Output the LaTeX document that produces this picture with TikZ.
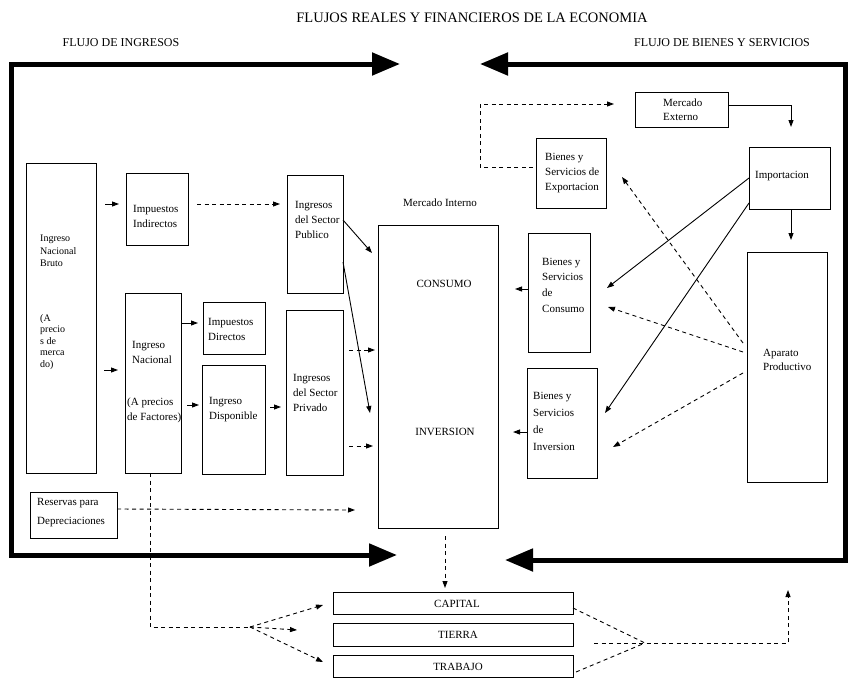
\documentclass[tikz,border=0pt]{standalone}
\usepackage{fontspec}
\setmainfont{Liberation Serif}
\usetikzlibrary{arrows.meta,fit}
\begin{document}
\begin{tikzpicture}[x=1pt,y=-1pt,
  bx/.style={draw, line width=0.9pt, inner sep=0pt, outer sep=0pt},
  txt/.style={font=\fontsize{11}{15}\selectfont, align=left, inner sep=0pt, anchor=west},
  ctxt/.style={font=\fontsize{11}{14}\selectfont, align=center, inner sep=0pt},
  bigframe/.style={line width=5pt, line join=miter, {Triangle[length=28pt,width=22pt]}-{Triangle[length=28pt,width=22pt]}},
  sar/.style={line width=0.9pt, -{Triangle[length=7pt,width=5pt]}},
  dar/.style={line width=0.9pt, dash pattern=on 4pt off 3.5pt, -{Triangle[length=7pt,width=5pt]}},
  dln/.style={line width=0.9pt, dash pattern=on 4pt off 3.5pt},
]
\fill[white] (0,0) rectangle (856,680);
\useasboundingbox (0,0) rectangle (856,680);

% titles
\node[inner sep=0pt, font=\fontsize{14.5}{16}\selectfont] (title) at (472,18) {FLUJOS REALES Y FINANCIEROS DE LA ECONOMIA};
\node[inner sep=0pt, font=\fontsize{12}{14}\selectfont] (fi) at (121,43) {FLUJO DE INGRESOS};
\node[inner sep=0pt, font=\fontsize{12}{14}\selectfont] (fb) at (722,43) {FLUJO DE BIENES Y SERVICIOS};

% thick frame
\coordinate (ltip) at (400,64);
\coordinate (lcor1) at (11,64);
\coordinate (lcor2) at (11,555);
\coordinate (lbtip) at (397,555);
\coordinate (rtip) at (480,64);
\coordinate (rcor1) at (845,64);
\coordinate (rcor2) at (845,560);
\coordinate (rbtip) at (505,560);
\draw[bigframe] (ltip) -- (lcor1) -- (lcor2) -- (lbtip);
\draw[bigframe] (rtip) -- (rcor1) -- (rcor2) -- (rbtip);

% boxes
\node[bx, fit={(26,163) (96,473)}] (inb) {};
\node[bx, fit={(126,173) (188,245)}] (imi) {};
\node[bx, fit={(287,175) (343,293)}] (isp) {};
\node[bx, fit={(125,293) (181,473)}] (inn) {};
\node[bx, fit={(203,302) (265,354)}] (imd) {};
\node[bx, fit={(202,365) (265,474)}] (dis) {};
\node[bx, fit={(286,310) (343,475)}] (ipr) {};
\node[bx, fit={(30,492) (117,538)}] (res) {};
\node[bx, fit={(378,225) (498,528)}] (mi) {};
\node[bx, fit={(536,138) (606,208)}] (exp) {};
\node[bx, fit={(635,92) (728,127)}] (me) {};
\node[bx, fit={(749,147) (830,209)}] (imp) {};
\node[bx, fit={(528,233) (590,352)}] (con) {};
\node[bx, fit={(527,368) (597,478)}] (inv) {};
\node[bx, fit={(747,252) (827,482)}] (apa) {};
\node[bx, fit={(333,592) (573,614)}] (cap) {};
\node[bx, fit={(333,623) (573,646)}] (tie) {};
\node[bx, fit={(333,655) (573,677)}] (tra) {};

% texts
\node[txt, font=\fontsize{10}{12.5}\selectfont] (t1) at (40,251) {Ingreso\\Nacional\\Bruto};
\node[txt, font=\fontsize{10}{11.5}\selectfont] (t2) at (40,342) {(A\\precio\\s de\\merca\\do)};
\node[txt] (t3) at (133,216) {Impuestos\\Indirectos};
\node[txt] (t4) at (295,220) {Ingresos\\del Sector\\Publico};
\node[txt] (t5) at (132,352) {Ingreso\\Nacional};
\node[txt] (t6) at (127,410) {(A precios\\de Factores)};
\node[txt] (t7) at (208,329) {Impuestos\\Directos};
\node[txt] (t8) at (209,410) {Ingreso\\Disponible};
\node[txt] (t9) at (293,393) {Ingresos\\del Sector\\Privado};
\node[txt, font=\fontsize{11}{19}\selectfont] (t10) at (37,513) {Reservas para\\Depreciaciones};
\node[ctxt] (t11) at (440,203) {Mercado Interno};
\node[ctxt] (t12) at (444,284) {CONSUMO};
\node[ctxt] (t13) at (445,432) {INVERSION};
\node[txt] (t14) at (545,173) {Bienes y\\Servicios de\\Exportacion};
\node[txt, font=\fontsize{11}{14}\selectfont] (t15) at (663,110) {Mercado\\Externo};
\node[txt] (t16) at (755,176) {Importacion};
\node[txt, font=\fontsize{11}{15.7}\selectfont] (t17) at (542,285) {Bienes y\\Servicios\\de\\Consumo};
\node[txt, font=\fontsize{11}{17}\selectfont] (t18) at (533,421) {Bienes y\\Servicios\\de\\Inversion};
\node[txt, font=\fontsize{11}{14}\selectfont] (t19) at (763,360) {Aparato\\Productivo};
\node[ctxt] (t20) at (457,604) {CAPITAL};
\node[ctxt] (t21) at (458,635) {TIERRA};
\node[ctxt] (t22) at (458,667) {TRABAJO};

% left side connectors
\draw[sar] (105,204) -- (119,204);
\draw[dar] (imi.east |- 0,204) ++(9,0) -- (280,204);
\draw[sar] (104,370) -- (118,370);
\draw[sar] (inn.east |- 0,323) -- (198,323);
\draw[sar] (187,405) -- (199,405);
\draw[sar] (270,407) -- (281,407);
\draw[sar] (isp.east |- 0,220) -- (372,253);
\draw[sar] (isp.east |- 0,262) -- (370,413);
\draw[dar] (349,350) -- (375,350);
\draw[dar] (349,446) -- (373,446);
\draw[dar] (res.east |- 0,509) -- (355,510);

% income to factors
\coordinate (fork) at (250,627);
\draw[dln] (inn.south -| 150,0) -- (150,627) -- (fork);
\draw[dar] (fork) -- (297,630);
\draw[dar] (fork) -- (323,605);
\draw[dar] (fork) -- (323,662);
\draw[dar] (mi.south -| 445,0) ++(0,8) -- (445,588);

% factors back to productive apparatus
\coordinate (join) at (645,643);
\draw[dln] (cap.east |- 0,608) -- (join);
\draw[dln] (tra.east |- 0,672) ++(3,0) -- (join);
\draw[dar] (594,643) -- (788,643) -- (788,590);

% right side connectors
\draw[sar] (me.east |- 0,105) -- (791,105) -- (791,127);
\draw[sar] (imp.south -| 791,0) -- (791,240);
\draw[dar] (exp.west |- 0,167) ++(-3,0) -- (480,167) -- (480,104) -- (614,104);
\draw[sar] (imp.west |- 0,178) -- (607,288);
\draw[sar] (imp.west |- 0,203) -- (605,413);
\draw[dar] (743,343) -- (622,177);
\draw[dar] (743,352) -- (608,307);
\draw[dar] (743,373) -- (613,447);
\draw[sar] (con.west |- 0,289) -- (515,289);
\draw[sar] (inv.west |- 0,432) -- (513,432);
\end{tikzpicture}
\end{document}
